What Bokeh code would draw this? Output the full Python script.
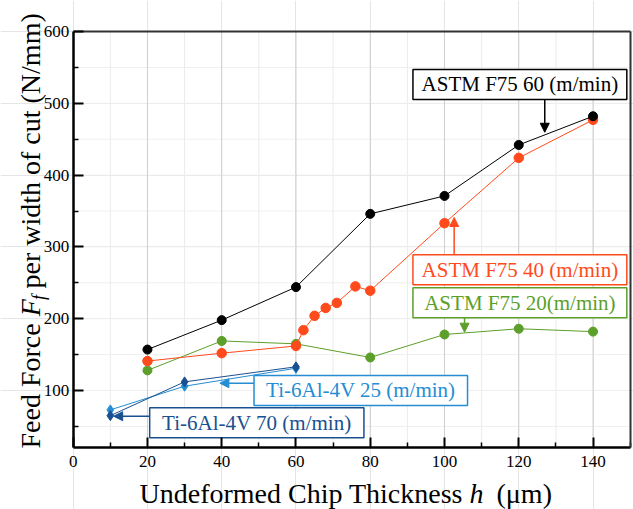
import math
from bokeh.plotting import figure
from bokeh.models import Range1d, FixedTicker, Label, Arrow, NormalHead, LinearAxis
from bokeh.embed import file_html
from bokeh.resources import INLINE

# ---- data ----
h_f75_60 = [20, 40, 60, 80, 100, 120, 140]
f_f75_60 = [157, 198, 244, 346, 371, 442, 482]

h_f75_40 = [20, 40, 60, 62, 65, 68, 71, 76, 80, 100, 120, 140]
f_f75_40 = [141, 152, 162, 184, 204, 215, 222, 245, 239, 333, 424, 477]

h_f75_20 = [20, 40, 60, 80, 100, 120, 140]
f_f75_20 = [128, 169, 165, 146, 178, 186, 182]

h_ti = [10, 30, 60]
f_ti25 = [73, 106, 131]
f_ti70 = [65, 112, 133]

x_ticks = [0, 20, 40, 60, 80, 100, 120, 140]
x_minor = [10, 30, 50, 70, 90, 110, 130, 150]
y_ticks = [100, 200, 300, 400, 500, 600]
y_minor = [50, 150, 250, 350, 450, 550]

X_MIN, X_MAX = 0, 150
Y_MIN, Y_MAX = 20, 600

FONT = "Liberation Serif"
C_BLACK = "#000000"
C_ORANGE = "#ff4a1c"
C_GREEN = "#5c9f2a"
C_LBLUE = "#248dd3"
C_DBLUE = "#1a5090"

W, H = 633, 509
PX_X = 3.713   # pixels per x unit
PX_Y = 0.718   # pixels per y unit
# the frame spans the whole canvas; the plotting box [0,150]x[20,600] sits inside it
p = figure(width=W, height=H, x_range=Range1d(-19.58, 150.9), y_range=Range1d(-65.74, 643.18),
           output_backend="svg", toolbar_location=None,
           x_axis_location=None, y_axis_location=None,
           min_border=0, min_border_left=0, min_border_right=0,
           min_border_top=0, min_border_bottom=0)
p.background_fill_color = "white"
p.border_fill_color = "white"
p.outline_line_color = None


def style_axis(ax):
    ax.axis_line_color = "black"
    ax.axis_line_width = 2.5
    ax.major_tick_in = 10
    ax.major_tick_out = 0
    ax.minor_tick_in = 5
    ax.minor_tick_out = 0
    ax.major_tick_line_width = 2
    ax.minor_tick_line_width = 1.5
    ax.major_tick_line_color = "black"
    ax.minor_tick_line_color = "black"
    ax.major_label_text_font = FONT
    ax.major_label_text_font_size = "17px"
    ax.major_label_text_color = "black"


# ---- grid lines (from tick lists) ----
gx_major = [t for t in x_ticks if X_MIN < t < X_MAX]
gx_minor = [t for t in x_minor if X_MIN < t < X_MAX]
gy_all = [t for t in sorted(y_ticks + y_minor) if Y_MIN < t < Y_MAX]
p.segment(x0=gx_minor, y0=[Y_MIN] * len(gx_minor), x1=gx_minor, y1=[Y_MAX] * len(gx_minor),
          line_color="#ebebeb", line_width=1)
p.segment(x0=[X_MIN] * len(gy_all), y0=gy_all, x1=[X_MAX] * len(gy_all), y1=gy_all,
          line_color="#efefef", line_width=1)
p.segment(x0=gx_major, y0=[Y_MIN] * len(gx_major), x1=gx_major, y1=[Y_MAX] * len(gx_major),
          line_color="#cfcfcf", line_width=1)

# ---- axes (library axes at fixed locations) ----
xaxis = LinearAxis(fixed_location=Y_MIN, bounds=(X_MIN, X_MAX),
                   ticker=FixedTicker(ticks=x_ticks, minor_ticks=x_minor))
style_axis(xaxis)
xaxis.major_label_standoff = 8
p.add_layout(xaxis, "below")

yaxis = LinearAxis(fixed_location=X_MIN, bounds=(Y_MIN, Y_MAX),
                   ticker=FixedTicker(ticks=y_ticks, minor_ticks=y_minor))
style_axis(yaxis)
yaxis.major_label_standoff = 4
p.add_layout(yaxis, "left")

for loc, side, bnds in ((Y_MAX, "above", (X_MIN, X_MAX)), (X_MAX, "right", (Y_MIN, Y_MAX))):
    fr = LinearAxis(fixed_location=loc, bounds=bnds, ticker=FixedTicker(ticks=[], minor_ticks=[]))
    fr.axis_line_color = "#333333"
    fr.axis_line_width = 2
    fr.major_tick_line_color = None
    fr.minor_tick_line_color = None
    fr.major_label_text_color = None
    p.add_layout(fr, side)

# ---- series ----
p.line(h_ti, f_ti25, line_color=C_LBLUE, line_width=1)
p.scatter(h_ti, f_ti25, marker="diamond", size=10, color=C_LBLUE)
p.line(h_ti, f_ti70, line_color=C_DBLUE, line_width=1)
p.scatter(h_ti, f_ti70, marker="diamond", size=10, color=C_DBLUE)

p.line(h_f75_20, f_f75_20, line_color=C_GREEN, line_width=1)
p.scatter(h_f75_20, f_f75_20, marker="circle", size=9, color=C_GREEN)
p.line(h_f75_40, f_f75_40, line_color=C_ORANGE, line_width=1)
p.scatter(h_f75_40, f_f75_40, marker="circle", size=9.5, color=C_ORANGE)
p.line(h_f75_60, f_f75_60, line_color=C_BLACK, line_width=1)
p.scatter(h_f75_60, f_f75_60, marker="circle", size=9, color=C_BLACK)

# ---- annotation boxes (data coordinates) ----
boxes = [
    ("ASTM F75 60 (m/min)", C_BLACK, 91.5, 149.1, 547.1, 505.3, (127.0, 505.3, 127.0, 459.7)),
    ("ASTM F75 40 (m/min)", C_ORANGE, 91.5, 149.1, 289.0, 247.2, (102.6, 289.0, 102.6, 341.0)),
    ("ASTM F75 20(m/min)", C_GREEN, 91.5, 149.1, 243.0, 201.3, (105.4, 201.3, 105.4, 181.2)),
    ("Ti-6Al-4V 25 (m/min)", C_LBLUE, 48.7, 106.2, 120.9, 79.1, (48.7, 110.2, 39.5, 110.2)),
    ("Ti-6Al-4V 70 (m/min)", C_DBLUE, 20.6, 78.3, 75.9, 34.1, (20.6, 64.2, 10.9, 64.2)),
]
for text, c, l, r, t, b, (xs, ys, xe, ye) in boxes:
    p.quad(left=[l], right=[r], top=[t], bottom=[b], fill_color="white",
           line_color=c, line_width=1.5)
    p.add_layout(Label(x=(l + r) / 2, y=(t + b) / 2, text=text, text_align="center",
                       text_baseline="middle", text_font=FONT, text_font_size="21px",
                       text_color=c))
    p.add_layout(Arrow(x_start=xs, y_start=ys, x_end=xe, y_end=ye, line_color=c,
                       line_width=1.5,
                       end=NormalHead(size=9, fill_color=c, line_color=c, line_width=1)))

# ---- axis titles built from pieces (for italics); anchors are text middles ----
XL = 28
xl_pieces = [("Undeformed Chip Thickness", "normal", 0.0),
             ("h", "italic", 330.0),
             ("(\u03bcm)", "normal", 357.0)]
for txt, style, off in xl_pieces:
    p.add_layout(Label(x=17.86 + off / PX_X, y=-44.0, text=txt,
                       text_font=FONT, text_font_size=f"{XL}px", text_font_style=style,
                       text_align="left", text_baseline="middle", text_color="black"))

yl_pieces = [("Feed Force", "normal", 0.0, -11.5, XL),
             ("F", "italic", 132.2, -11.5, XL),
             ("f", "italic", 148.5, -9.25, 18),
             ("per width of cut (N/mm)", "normal", 160.0, -11.5, XL)]
for txt, style, off, xd, fs in yl_pieces:
    p.add_layout(Label(x=xd, y=19.2 + off / PX_Y, text=txt, angle=math.pi / 2,
                       text_font=FONT, text_font_size=f"{fs}px", text_font_style=style,
                       text_align="left", text_baseline="middle", text_color="black"))

open("out.html", "w").write(file_html(p, INLINE))
